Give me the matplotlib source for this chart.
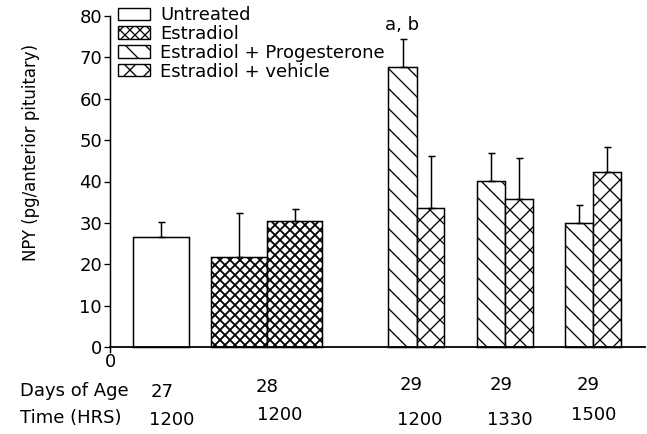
import matplotlib
matplotlib.use("Agg")
import matplotlib.pyplot as plt
from matplotlib.patches import Patch

# ---------------- data ----------------
treatments = ["Untreated", "Estradiol", "Estradiol + Progesterone", "Estradiol + vehicle"]
bar_treatment = [0, 1, 1, 2, 3, 2, 3, 2, 3]          # index into treatments
npy_mean = [26.6, 21.8, 30.4, 67.7, 33.6, 40.1, 35.8, 30.0, 42.3]
npy_err = [3.5, 10.6, 2.9, 6.8, 12.6, 6.8, 9.9, 4.3, 6.0]
sig_label = "a, b"
sig_bar = 3
days_labels = ["27", "28", "29", "29", "29"]
time_labels = ["1200", "1200", "1200", "1330", "1500"]
yticks = [0, 10, 20, 30, 40, 50, 60, 70, 80]
ylabel = "NPY (pg/anterior pituitary)"

# ---------------- layout / style ----------------
DPI = 60
W, H = 647, 434
PT = 72.0 / DPI            # points per pixel
FS = 18 * PT               # font size (~18 px)
FS_YLAB = 16.5 * PT
hatches = ["", "xx", "\\", "x"]
bar_left = [23, 101, 157, 278, 307, 367, 395, 455, 483]
bar_width = [56, 56, 55, 29, 27, 28, 28, 28, 28]
days_pos = [(162, 392), (267, 387), (411, 385), (501, 385), (588, 385)]
time_pos = [(172, 420), (280, 415), (420, 420), (510, 420), (594, 415)]

plt.rcParams["font.family"] = ["DejaVu Sans"]
plt.rcParams["hatch.color"] = "black"
plt.rcParams["hatch.linewidth"] = 1.3 * PT
DENSE_HLW = 1.8 * PT

fig = plt.figure(figsize=(W / DPI, H / DPI), dpi=DPI)
ax_left, ax_right = 110, 645
ax_top, ax_bot = 16, 352
ax = fig.add_axes([ax_left / W, 1 - ax_bot / H, (ax_right - ax_left) / W, (ax_bot - ax_top) / H])

ymin = -(ax_bot - 347) / ((347 - ax_top) / 80.0)
ax.set_ylim(ymin, 80)
ax.set_xlim(0, ax_right - ax_left)

for i, (m, e) in enumerate(zip(npy_mean, npy_err)):
    t = bar_treatment[i]
    x0 = bar_left[i]
    w = bar_width[i]
    b = ax.bar(x0, m, width=w, align="edge", color="white", edgecolor="black",
               linewidth=1.5 * PT, hatch=hatches[t], zorder=2)
    if t == 1:
        for p in b.patches:
            try:
                p.set_hatch_linewidth(DENSE_HLW)
            except Exception:
                pass
    ax.errorbar(x0 + w / 2, m, yerr=[[0], [e]], fmt="none", ecolor="black",
                elinewidth=1.5 * PT, capsize=3.5 * PT, capthick=1.5 * PT, zorder=3)

# significance label
sx = bar_left[sig_bar] + bar_width[sig_bar] / 2
ax.text(sx, npy_mean[sig_bar] + npy_err[sig_bar] + 1.2, sig_label, ha="center", va="bottom",
        fontsize=FS)

# axes styling
for s in ["top", "right"]:
    ax.spines[s].set_visible(False)
ax.spines["bottom"].set_position(("data", 0))
ax.spines["bottom"].set_linewidth(1.8 * PT)
ax.spines["left"].set_linewidth(1.5 * PT)
ax.set_yticks(yticks)
ax.set_yticklabels([str(v) for v in yticks])
ax.tick_params(axis="y", direction="out", length=6 * PT, width=1.3 * PT, labelsize=FS, pad=2 * PT)
ax.set_xticks([0])
ax.set_xticklabels(["0"])
ax.tick_params(axis="x", length=0, labelsize=FS, pad=6 * PT)
ax.set_ylabel(ylabel, fontsize=FS_YLAB)
ax.yaxis.set_label_coords((40 - ax_left) / (ax_right - ax_left), (ax_bot - 152) / (ax_bot - ax_top))

# legend
handles = [Patch(facecolor="white", edgecolor="black", hatch=h, linewidth=1.4 * PT) for h in hatches]
try:
    handles[1].set_hatch_linewidth(DENSE_HLW)
except Exception:
    pass
leg = ax.legend(handles, treatments, loc="upper left",
                bbox_to_anchor=((118 - ax_left) / (ax_right - ax_left), (ax_bot - 6) / (ax_bot - ax_top)),
                frameon=False, fontsize=FS, handlelength=32 / 18, handleheight=12 / 18,
                handletextpad=10 / 18, labelspacing=0.05, borderpad=0, borderaxespad=0)

# bottom row labels
fig.text(20 / W, 1 - 391 / H, "Days of Age", ha="left", va="center", fontsize=FS)
fig.text(20 / W, 1 - 418 / H, "Time (HRS)", ha="left", va="center", fontsize=FS)
for lab, (px, py) in zip(days_labels, days_pos):
    fig.text(px / W, 1 - py / H, lab, ha="center", va="center", fontsize=FS)
for lab, (px, py) in zip(time_labels, time_pos):
    fig.text(px / W, 1 - py / H, lab, ha="center", va="center", fontsize=FS)

fig.savefig("out.png", dpi=DPI)
